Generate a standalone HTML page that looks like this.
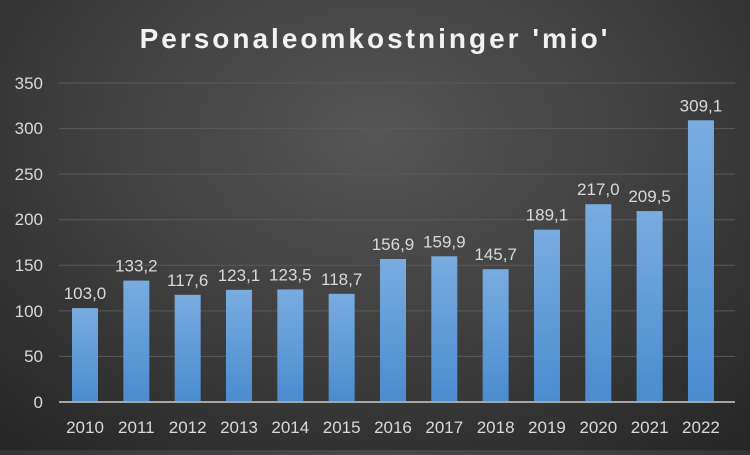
<!DOCTYPE html>
<html><head><style>
html,body{margin:0;padding:0}
body{width:750px;height:450px;overflow:hidden;background:radial-gradient(ellipse 75% 90% at 50% 30%,#565656 0%,#3d3d3d 55%,#262626 100%);font-family:"Liberation Sans",sans-serif}
</style></head><body>
<svg width="750" height="450" xmlns="http://www.w3.org/2000/svg">
<defs><linearGradient id="g" x1="0" y1="0" x2="0" y2="1"><stop offset="0" stop-color="#79ace0"/><stop offset="1" stop-color="#4a8ccf"/></linearGradient></defs>
<text x="375" y="48" text-anchor="middle" fill="#f2f2f2" font-size="28" font-weight="bold" letter-spacing="3">Personaleomkostninger 'mio'</text>
<g stroke="#5a5a5a" stroke-width="1">
<line x1="59" x2="735" y1="356.4" y2="356.4"/><line x1="59" x2="735" y1="310.9" y2="310.9"/><line x1="59" x2="735" y1="265.3" y2="265.3"/><line x1="59" x2="735" y1="219.7" y2="219.7"/><line x1="59" x2="735" y1="174.1" y2="174.1"/><line x1="59" x2="735" y1="128.6" y2="128.6"/><line x1="59" x2="735" y1="83" y2="83"/>
</g>
<g fill="#d9d9d9" font-size="17" text-anchor="end">
<text x="43" y="408">0</text><text x="43" y="362">50</text><text x="43" y="317">100</text><text x="43" y="271">150</text><text x="43" y="225">200</text><text x="43" y="180">250</text><text x="43" y="134">300</text><text x="43" y="89">350</text>
</g>
<g id="bars"></g>
<line x1="59" x2="735" y1="402" y2="402" stroke="#a6a6a6" stroke-width="2"/>
<g id="labels" fill="#d9d9d9" font-size="17" text-anchor="middle"></g>
<script>
var v=[103.0,133.2,117.6,123.1,123.5,118.7,156.9,159.9,145.7,189.1,217.0,209.5,309.1];
var b=document.getElementById('bars'),l=document.getElementById('labels'),ns='http://www.w3.org/2000/svg';
v.forEach(function(d,i){var cx=85+i*51.33,h=d*0.9114,y=402-h;
var r=document.createElementNS(ns,'rect');r.setAttribute('x',cx-13);r.setAttribute('y',y);r.setAttribute('width',26);r.setAttribute('height',h);r.setAttribute('fill','url(#g)');b.appendChild(r);
var t=document.createElementNS(ns,'text');t.setAttribute('x',cx);t.setAttribute('y',y-9);t.textContent=d.toFixed(1).replace('.',',');l.appendChild(t);
var t2=document.createElementNS(ns,'text');t2.setAttribute('x',cx);t2.setAttribute('y',433);t2.textContent=2010+i;l.appendChild(t2);});
</script>
</svg>
</body></html>
